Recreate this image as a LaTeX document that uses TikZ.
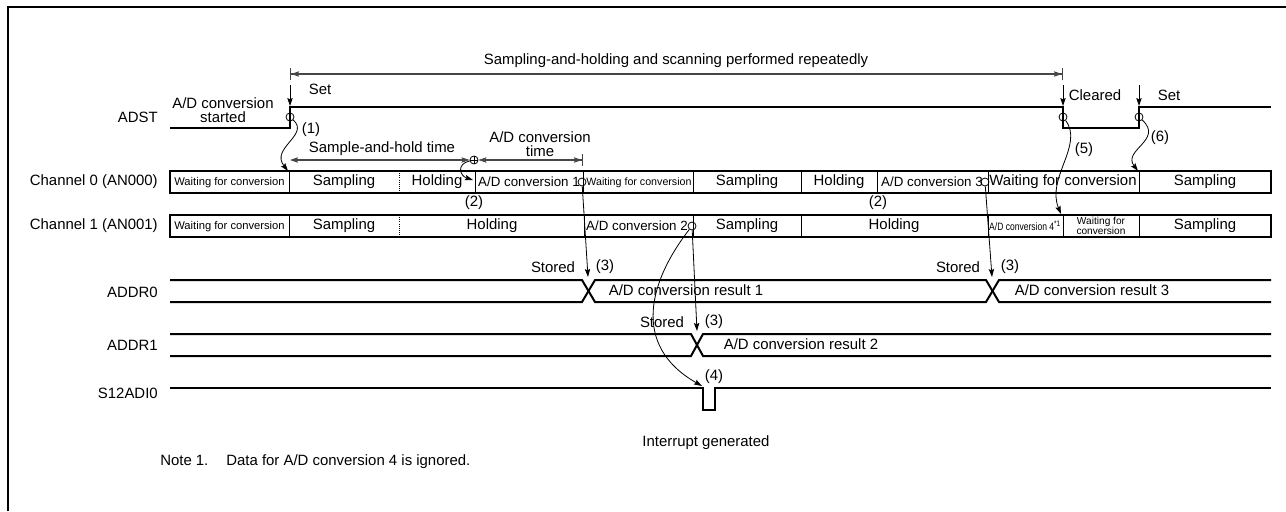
\documentclass[tikz,border=0pt]{standalone}
\usepackage{fontspec}
\setmainfont{Liberation Sans}
\usetikzlibrary{arrows.meta,positioning,calc}
\definecolor{dimgray}{RGB}{70,70,70}
\tikzset{
  frameline/.style={line width=1.9pt},
  wave/.style={line width=1.5pt,line join=miter},
  lanebox/.style={line width=1.5pt},
  divider/.style={line width=0.6pt},
  sname/.style={anchor=east,inner sep=0pt},
  lbl/.style={inner sep=0pt},
  cell/.style={inner sep=0pt},
  cellmid/.style={cell,font=\fontsize{10}{12}\selectfont},
  cellsmall/.style={cell,font=\fontsize{8.4}{10}\selectfont},
  ptr/.style={-{Stealth[length=6pt,width=4pt,inset=1pt]},line width=0.6pt},
  dimarr/.style={{Stealth[length=6pt,width=4pt,inset=1pt]}-{Stealth[length=6pt,width=4pt,inset=1pt]},
                 line width=0.8pt,color=dimgray},
  dimbar/.style={{Bar[width=9pt]Stealth[length=6pt,width=4pt,inset=1pt]}-{Stealth[length=6pt,width=4pt,inset=1pt]Bar[width=9pt]},
                 line width=0.8pt,color=dimgray},
  dimendbar/.style={{Stealth[length=6pt,width=4pt,inset=1pt]}-{Stealth[length=6pt,width=4pt,inset=1pt]Bar[width=9pt]},
                 line width=0.8pt,color=dimgray},
  ring/.style={circle,draw,line width=0.6pt,inner sep=0pt,minimum size=6pt},
}

\begin{document}
\begin{tikzpicture}[x=0.75pt,y=-0.75pt,font=\fontsize{11.2}{13}\selectfont]
  \useasboundingbox (0,0) rectangle (1286,511);
  \draw[frameline] (8,511) -- (8,7) -- (1286,7);

  % signal names
  \node[sname] (nADST)  at (158,117) {ADST};
  \node[sname] (nCH0)   at (158,182) {Channel 0 (AN000)};
  \node[sname] (nCH1)   at (158,226) {Channel 1 (AN001)};
  \node[sname] (nADDR0) at (158,292) {ADDR0};
  \node[sname] (nADDR1) at (158,345) {ADDR1};
  \node[sname] (nIRQ)   at (158,393) {S12ADI0};

  % ADST
  \draw[wave] (170,128) -- (290,128) -- (290,107) -- (1063,107) -- (1063,128)
              -- (1139,128) -- (1139,107) -- (1271,107);
  \node[lbl,align=center,font=\fontsize{11.2}{10.5}\selectfont] (started) at (223,110) {A/D conversion\\started};
  \node[ring] (r1) at (290,117) {};
  \node[ring] (r5) at (1063,117) {};
  \node[ring] (r6) at (1139,117) {};

  \coordinate (setA)  at (290,85);   \coordinate (setAe) at (290,106);
  \coordinate (clrA)  at (1063,85);  \coordinate (clrAe) at (1063,106);
  \coordinate (setB)  at (1139,85);  \coordinate (setBe) at (1139,106);
  \draw[ptr] (setA) -- (setAe);
  \draw[ptr] (clrA) -- (clrAe);
  \draw[ptr] (setB) -- (setBe);
  \node[lbl] (tSet1)    at (320,89) {Set};
  \node[lbl] (tCleared) at (1095,95) {Cleared};
  \node[lbl] (tSet2)    at (1169,95) {Set};

  % repeated span
  \coordinate (rpL) at (290,74);
  \coordinate (rpR) at (1063,74);
  \draw[dimbar] (rpL) -- (rpR);
  \node[lbl] (tRepeat) at (676,61) {Sampling-and-holding and scanning performed repeatedly};

  % sample-and-hold / conversion time
  \coordinate (shL) at (290,160);
  \node[ring] (r2) at (474,160) {};
  \coordinate (cvR) at (583,160);
  \draw[dimarr] (shL) -- (r2);
  \draw[dimendbar] (r2) -- (cvR);
  \draw[divider] (r2.north) -- (r2.south) (r2.west) -- (r2.east);
  \node[lbl] (tSH) at (382,149) {Sample-and-hold time};
  \node[lbl,align=center,font=\fontsize{11.2}{10.5}\selectfont] (tCV) at (540,144) {A/D conversion\\time};

  % channel 0
  \draw[lanebox] (170,171) rectangle (1271,193);
  \draw[divider] (289,171) -- (289,193) (475,171) -- (475,193) (583,171) -- (583,193)
                 (693,171) -- (693,193) (801,171) -- (801,193) (877,171) -- (877,193)
                 (988,171) -- (988,193) (1139,171) -- (1139,193);
  \draw[divider,densely dotted] (399,171) -- (399,193);
  \node[cellsmall] (c0a) at (229.5,183) {Waiting for conversion};
  \node[cell]      (c0b) at (344,182) {Sampling};
  \node[cell]      (c0c) at (437,182) {Holding};
  \node[cellmid]   (c0d) at (529,182) {A/D conversion 1};
  \node[cellsmall,font=\fontsize{8}{10}\selectfont] (c0e) at (639,183) {Waiting for conversion};
  \node[cell]      (c0f) at (747,182) {Sampling};
  \node[cell]      (c0g) at (839,182) {Holding};
  \node[cellmid]   (c0h) at (932,182) {A/D conversion 3};
  \node[cell]      (c0i) at (1063,182) {Waiting for conversion};
  \node[cell]      (c0j) at (1205,182) {Sampling};

  % channel 1
  \draw[lanebox] (170,215) rectangle (1271,237);
  \draw[divider] (289,215) -- (289,237) (584,215) -- (584,237) (693,215) -- (693,237)
                 (801,215) -- (801,237) (988,215) -- (988,237) (1063,215) -- (1063,237)
                 (1139,215) -- (1139,237);
  \draw[divider,densely dotted] (399,215) -- (399,237);
  \node[cellsmall] (c1a) at (229.5,227) {Waiting for conversion};
  \node[cell]      (c1b) at (344,226) {Sampling};
  \node[cell]      (c1c) at (492,226) {Holding};
  \node[cellmid]   (c1d) at (637,226) {A/D conversion 2};
  \node[cell]      (c1e) at (747,226) {Sampling};
  \node[cell]      (c1f) at (894,226) {Holding};
  \node[cell,font=\fontsize{8}{9}\selectfont] (c1g) at (1025,226)
       {\scalebox{0.8}[1]{A/D conversion 4\textsuperscript{*1}}};
  \node[cell,align=center,font=\fontsize{7.6}{7.6}\selectfont] (c1h) at (1101,226) {Waiting for\\conversion};
  \node[cell]      (c1i) at (1205,226) {Sampling};

  \node[lbl] (tP2a) at (474,203) {(2)};
  \node[lbl] (tP2b) at (878,203) {(2)};

  % conversion-end rings
  \node[ring] (r3) at (582,182) {};
  \node[ring] (r4) at (692,226) {};
  \node[ring] (r7) at (985,182) {};

  % ADDR0
  \draw[wave] (170,280) -- (582,280) -- (595,302) -- (986,302) -- (999,280) -- (1271,280);
  \draw[wave] (170,302) -- (582,302) -- (595,280) -- (986,280) -- (999,302) -- (1271,302);
  \node[lbl] (res1) at (686,290) {A/D conversion result 1};
  \node[lbl] (res3) at (1092,290) {A/D conversion result 3};

  % ADDR1
  \draw[wave] (170,334) -- (691,334) -- (703,356) -- (1271,356);
  \draw[wave] (170,356) -- (691,356) -- (703,334) -- (1271,334);
  \node[lbl] (res2) at (801,344) {A/D conversion result 2};

  % S12ADI0
  \draw[wave] (170,388) -- (703,388) -- (703,410) -- (715,410) -- (715,388) -- (1271,388);

  % stored arrows
  \coordinate (st1) at (588,277);
  \coordinate (st2) at (697,331);
  \coordinate (st3) at (992,277);
  \coordinate (irq) at (702,386);
  \draw[ptr] (r3) -- (st1);
  \draw[ptr] (r4) -- (st2);
  \draw[ptr] (r7) -- (st3);
  \node[lbl] (tSt1) at (553,267) {Stored};
  \node[lbl] (tP3a) at (605,267) {(3)};
  \node[lbl] (tSt3) at (958,267) {Stored};
  \node[lbl] (tP3c) at (1010,267) {(3)};
  \node[lbl] (tSt2) at (662,322) {Stored};
  \node[lbl] (tP3b) at (714,322) {(3)};
  \node[lbl] (tP4)  at (714,377) {(4)};

  % curved pointers
  \coordinate (c0tick) at (288,171);
  \coordinate (c0hold) at (473,180);
  \coordinate (c1wait) at (1061,214);
  \coordinate (c0samp) at (1138,171);
  \draw[ptr] (r1) .. controls (310,135) and (270,148) .. (c0tick);
  \draw[ptr] (r2) .. controls (456,164) and (460,176) .. (c0hold);
  \draw[ptr] (r4) .. controls (650,280) and (630,345) .. (irq);
  \draw[ptr] (r5) .. controls (1084,145) and (1046,178) .. (c1wait);
  \draw[ptr] (r6) .. controls (1164,140) and (1122,150) .. (c0samp);
  \node[lbl] (tP1) at (311,130) {(1)};
  \node[lbl] (tP5) at (1084,150) {(5)};
  \node[lbl] (tP6) at (1160,138) {(6)};

  \node[lbl] (tIrq)  at (706,443) {Interrupt generated};
  \node[lbl,anchor=west] (tNote) at (160,462) {Note 1.\hspace{1.2em}Data for A/D conversion 4 is ignored.};
\end{tikzpicture}
\end{document}
